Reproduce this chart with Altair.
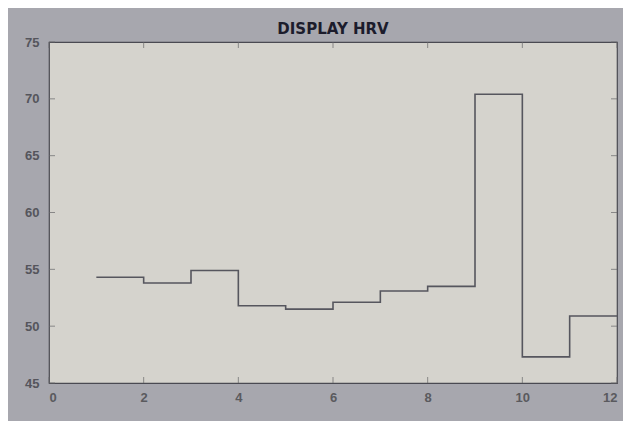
import altair as alt
import pandas as pd

# stairs data (MATLAB-style): value at x holds until next x
x_vals = [1, 2, 3, 4, 5, 6, 7, 8, 9, 10, 11, 12]
hrv_vals = [54.3, 53.8, 54.9, 51.8, 51.5, 52.1, 53.1, 53.5, 70.4, 47.3, 50.9, 50.9]
x_ticks = [0, 2, 4, 6, 8, 10, 12]
y_ticks = [45, 50, 55, 60, 65, 70, 75]

df = pd.DataFrame({"x": x_vals, "hrv": hrv_vals})
xt = pd.DataFrame({"t": x_ticks})
yt = pd.DataFrame({"t": y_ticks})

xscale = alt.Scale(domain=[0, 12], nice=False, zero=False)
yscale = alt.Scale(domain=[45, 75], nice=False, zero=False)

line = alt.Chart(df).mark_line(interpolate="step-after", color="#56565e", strokeWidth=1.6).encode(
    x=alt.X("x:Q", scale=xscale,
            axis=alt.Axis(values=x_ticks, title=None, grid=False, ticks=False, domain=False,
                          labelColor="#5a5a5e", labelFontSize=13, labelFont="Liberation Sans",
                          labelFontWeight="bold", labelPadding=8)),
    y=alt.Y("hrv:Q", scale=yscale,
            axis=alt.Axis(values=y_ticks, title=None, grid=False, ticks=False, domain=False,
                          labelColor="#55555c", labelFontSize=13, labelFont="Liberation Sans",
                          labelFontWeight="bold", labelPadding=10)),
)

tick_style = dict(color="#66666a", thickness=1)
bottom_ticks = alt.Chart(xt).mark_tick(size=6, yOffset=-3, **tick_style).encode(
    x=alt.X("t:Q", scale=xscale), y=alt.datum(45, scale=yscale)
)
top_ticks = alt.Chart(xt).mark_tick(size=6, yOffset=3, **tick_style).encode(
    x=alt.X("t:Q", scale=xscale), y=alt.datum(75, scale=yscale)
)
left_ticks = alt.Chart(yt).mark_tick(size=6, xOffset=3, orient="horizontal", **tick_style).encode(
    y=alt.Y("t:Q", scale=yscale), x=alt.datum(0, scale=xscale)
)
right_ticks = alt.Chart(yt).mark_tick(size=6, xOffset=-3, orient="horizontal", **tick_style).encode(
    y=alt.Y("t:Q", scale=yscale), x=alt.datum(12, scale=xscale)
)

chart = alt.layer(line, bottom_ticks, top_ticks, left_ticks, right_ticks).properties(
    width=568,
    height=341,
    padding={"left": 41, "top": 34, "right": 6, "bottom": 38},
    autosize=alt.AutoSizeParams(type="none"),
    background="#a7a7ae",
    title=alt.TitleParams("DISPLAY HRV", fontSize=15, fontWeight="bold", font="DejaVu Sans",
                          color="#1c1c2c", offset=-1, anchor="middle"),
).configure_view(
    fill="#d5d3cd", stroke="#4a4a52", strokeWidth=1.2
)

chart.save("out.html", embed_options={"renderer": "svg", "actions": False})
